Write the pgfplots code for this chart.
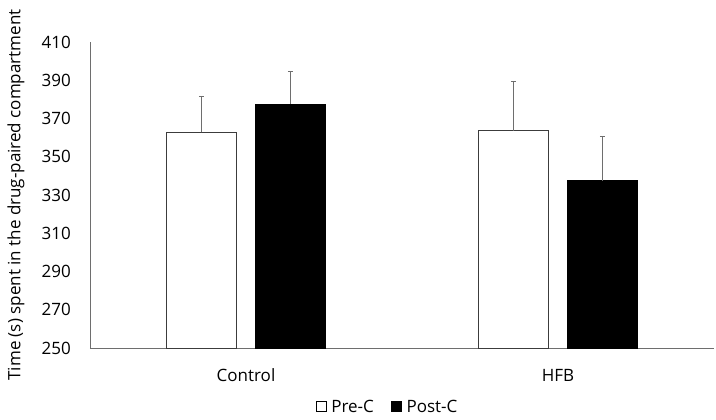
\documentclass[border=0pt]{standalone}
\usepackage{pgfplots}
\pgfplotsset{compat=1.18}
\usepackage{fontspec}
\setmainfont{Open Sans}
\definecolor{axgray}{RGB}{110,110,110}
\definecolor{bargray}{RGB}{60,60,60}
\begin{document}
\begin{tikzpicture}
\useasboundingbox (-90pt,-72pt) rectangle (626pt,348pt);
\begin{axis}[
  at={(0,0)}, anchor=south west,
  scale only axis, width=624pt, height=306pt,
  ybar=19pt, bar width=70pt,
  xmin=-0.5, xmax=1.5, ymin=250, ymax=410,
  xtick={0,1}, xticklabels={Control,HFB},
  ytick={250,270,...,410},
  /pgf/number format/assume math mode=true,
  axis x line=bottom, axis y line=left,
  axis line style={-, draw=axgray, line width=0.8pt},
  major tick length=0pt,
  font=\fontsize{17}{20}\selectfont,
  yticklabel style={inner sep=0pt, anchor=east, xshift=-19pt},
  xticklabel style={inner sep=0pt, anchor=center, yshift=-27pt},
  ylabel={Time (s) spent in the drug-paired compartment},
  ylabel style={at={(axis description cs:-0.1186,0.5)}, anchor=center},
  legend style={at={(axis description cs:0.476,-0.192)}, anchor=center, draw=none, legend columns=2, fill=none,
    inner sep=0pt, nodes={inner sep=1pt},
    /tikz/every even column/.append style={column sep=16pt}, font=\fontsize{17}{20}\selectfont},
  legend image code/.code={\draw[#1, draw=black, line width=0.6pt] (0pt,-5pt) rectangle (10pt,5pt); \path (14pt,0pt);},
  error bars/y dir=plus, error bars/y explicit,
  error bars/error bar style={draw=axgray, line width=0.8pt},
  error bars/error mark options={draw=axgray, line width=0.8pt, mark size=2.5pt, rotate=90},
  clip=false,
]
\addplot[fill=white, draw=bargray, line width=0.8pt] coordinates {(0,362.8) +- (0,19.0) (1,363.7) +- (0,25.5)};
\addplot[fill=black, draw=black, line width=0.8pt] coordinates {(0,377.5) +- (0,17.3) (1,337.5) +- (0,23.2)};
\legend{Pre-C,Post-C}
\end{axis}
\end{tikzpicture}
\end{document}
